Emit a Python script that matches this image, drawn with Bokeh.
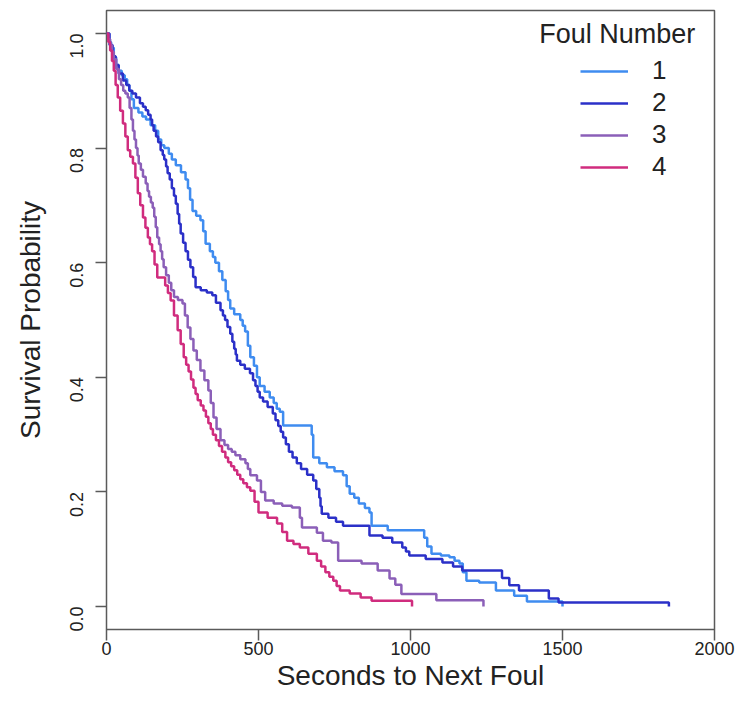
import math
from bokeh.plotting import figure
from bokeh.models import (FixedTicker, NumeralTickFormatter, Range1d, Legend, LegendItem, Label)
from bokeh.embed import file_html
from bokeh.resources import INLINE

# ---- data ----
series_names = ["1", "2", "3", "4"]
series_colors = ["#3f8cf0", "#2b30c8", "#8b5fb8", "#d02c7e"]

t1 = [0, 8, 15, 24, 32, 40, 50, 60, 68, 75, 82, 90, 105, 118, 130, 145, 160, 170, 180, 190, 205,
      215, 228, 245, 260, 268, 275, 283, 295, 309, 318, 326, 340, 350, 358, 370, 381, 392, 400, 407,
      420, 440, 448, 456, 465, 473, 485, 495, 504, 520, 537, 550, 560, 570, 581, 675, 680, 700, 725,
      750, 778, 790, 800, 815, 830, 850, 865, 872, 925, 1045, 1055, 1069, 1100, 1128, 1145, 1161,
      1172, 1184, 1226, 1281, 1341, 1383, 1500]
s1 = [1.0, 0.985, 0.975, 0.958, 0.945, 0.935, 0.927, 0.92, 0.91, 0.90, 0.885, 0.87, 0.862, 0.855,
      0.85, 0.84, 0.83, 0.815, 0.805, 0.80, 0.79, 0.78, 0.77, 0.758, 0.745, 0.73, 0.71, 0.69, 0.682,
      0.674, 0.655, 0.633, 0.62, 0.61, 0.60, 0.585, 0.57, 0.55, 0.535, 0.52, 0.51, 0.50, 0.49, 0.48,
      0.455, 0.435, 0.42, 0.40, 0.385, 0.375, 0.365, 0.355, 0.345, 0.34, 0.316, 0.30, 0.26, 0.25,
      0.243, 0.236, 0.229, 0.21, 0.197, 0.19, 0.18, 0.172, 0.164, 0.141, 0.133, 0.12, 0.105, 0.092,
      0.089, 0.086, 0.08, 0.075, 0.06, 0.045, 0.042, 0.028, 0.019, 0.009, 0.0]

t2 = [0, 10, 20, 30, 40, 54, 65, 75, 85, 97, 110, 120, 129, 137, 145, 150, 155, 163, 170, 178, 185,
      190, 196, 201, 208, 215, 222, 228, 234, 239, 244, 252, 260, 268, 276, 285, 293, 310, 330, 348,
      360, 375, 383, 390, 398, 407, 414, 420, 425, 429, 440, 455, 472, 482, 490, 497, 504, 515, 530,
      547, 556, 565, 573, 581, 590, 600, 612, 626, 640, 660, 680, 690, 700, 704, 708, 730, 755, 778,
      865, 908, 940, 973, 985, 996, 1050, 1105, 1140, 1170, 1301, 1325, 1357, 1455, 1487, 1850]
s2 = [1.0, 0.98, 0.96, 0.945, 0.93, 0.918, 0.91, 0.90, 0.895, 0.888, 0.878, 0.872, 0.866, 0.858,
      0.85, 0.84, 0.83, 0.82, 0.81, 0.796, 0.788, 0.78, 0.768, 0.756, 0.745, 0.73, 0.717, 0.703,
      0.685, 0.668, 0.651, 0.635, 0.62, 0.605, 0.592, 0.575, 0.557, 0.552, 0.548, 0.543, 0.53, 0.517,
      0.508, 0.50, 0.488, 0.476, 0.462, 0.45, 0.44, 0.429, 0.422, 0.415, 0.407, 0.395, 0.385, 0.375,
      0.365, 0.358, 0.348, 0.337, 0.325, 0.315, 0.305, 0.295, 0.283, 0.27, 0.26, 0.25, 0.24, 0.23,
      0.22, 0.205, 0.19, 0.175, 0.162, 0.155, 0.148, 0.141, 0.124, 0.120, 0.112, 0.103, 0.096, 0.089,
      0.083, 0.077, 0.07, 0.063, 0.05, 0.037, 0.028, 0.014, 0.007, 0.0]

t3 = [0, 6, 12, 18, 24, 32, 41, 48, 55, 62, 70, 76, 82, 87, 92, 97, 102, 106, 113, 120, 129, 135,
      140, 146, 152, 157, 162, 167, 173, 178, 183, 188, 196, 205, 213, 222, 235, 250, 258, 267, 276,
      286, 297, 309, 322, 335, 343, 352, 362, 375, 388, 400, 412, 424, 440, 457, 465, 473, 495, 508,
      522, 550, 578, 610, 636, 643, 692, 712, 740, 762, 839, 892, 931, 950, 970, 1085, 1240]
s3 = [1.0, 0.99, 0.98, 0.968, 0.955, 0.938, 0.92, 0.91, 0.90, 0.895, 0.888, 0.87, 0.85, 0.83,
      0.815, 0.80, 0.787, 0.773, 0.762, 0.75, 0.738, 0.725, 0.715, 0.705, 0.696, 0.68, 0.662, 0.644,
      0.632, 0.62, 0.606, 0.592, 0.578, 0.565, 0.552, 0.54, 0.535, 0.529, 0.508, 0.487, 0.467, 0.447,
      0.43, 0.412, 0.395, 0.377, 0.355, 0.33, 0.31, 0.29, 0.282, 0.275, 0.27, 0.264, 0.257, 0.25,
      0.24, 0.229, 0.22, 0.20, 0.185, 0.18, 0.176, 0.173, 0.155, 0.138, 0.129, 0.115, 0.112, 0.08,
      0.075, 0.063, 0.049, 0.038, 0.022, 0.011, 0.0]

t4 = [0, 6, 12, 18, 24, 30, 37, 45, 54, 62, 70, 78, 87, 95, 103, 111, 120, 128, 136, 143, 150, 158,
      167, 193, 202, 211, 222, 234, 244, 254, 262, 270, 278, 286, 293, 300, 310, 319, 327, 335, 343,
      350, 360, 370, 380, 391, 400, 410, 420, 430, 440, 450, 462, 473, 487, 500, 530, 561, 578, 594,
      615, 636, 664, 692, 706, 720, 733, 746, 757, 768, 800, 836, 872, 1005]
s4 = [1.0, 0.985, 0.97, 0.952, 0.935, 0.91, 0.888, 0.865, 0.843, 0.82, 0.796, 0.785, 0.773, 0.748,
      0.721, 0.70, 0.679, 0.661, 0.644, 0.632, 0.62, 0.597, 0.574, 0.56, 0.547, 0.534, 0.508, 0.482,
      0.458, 0.435, 0.422, 0.41, 0.396, 0.382, 0.371, 0.36, 0.351, 0.342, 0.331, 0.32, 0.31, 0.30,
      0.29, 0.28, 0.27, 0.26, 0.252, 0.245, 0.238, 0.23, 0.222, 0.215, 0.208, 0.202, 0.183, 0.164,
      0.155, 0.145, 0.13, 0.115, 0.109, 0.103, 0.092, 0.08, 0.07, 0.06, 0.052, 0.045, 0.036, 0.028,
      0.023, 0.016, 0.010, 0.0]

x_ticks = [0, 500, 1000, 1500, 2000]
y_ticks = [0.0, 0.2, 0.4, 0.6, 0.8, 1.0]

FONT = "Liberation Sans"
AXIS_GRAY = "#5a5a5a"
TEXT = "#222222"

p = figure(frame_width=608, frame_height=619, output_backend="svg", toolbar_location=None,
           x_range=Range1d(0, 2000), y_range=Range1d(-0.04, 1.04),
           min_border_left=106, min_border_right=23, min_border_top=10, min_border_bottom=88)

p.background_fill_color = "white"
p.border_fill_color = "white"
p.outline_line_color = AXIS_GRAY
p.outline_line_width = 1.5
p.xgrid.visible = False
p.ygrid.visible = False

# axes
p.xaxis.ticker = FixedTicker(ticks=x_ticks)
p.yaxis.ticker = FixedTicker(ticks=y_ticks)
p.yaxis.formatter = NumeralTickFormatter(format="0.0")
for ax in (p.xaxis[0], p.yaxis[0]):
    ax.axis_line_color = None
    ax.major_tick_line_color = AXIS_GRAY
    ax.major_tick_line_width = 1.5
    ax.major_tick_out = 11
    ax.major_tick_in = 0
    ax.minor_tick_line_color = None
    ax.major_label_text_font = FONT
    ax.major_label_text_font_size = "18px"
    ax.major_label_text_color = TEXT
    ax.axis_label_text_font = FONT
    ax.axis_label_text_font_size = "28px"
    ax.axis_label_text_font_style = "normal"
    ax.axis_label_text_color = TEXT

p.xaxis.axis_label = "Seconds to Next Foul"
p.yaxis.axis_label = "Survival Probability"
p.xaxis.major_label_standoff = 1
p.xaxis.axis_label_standoff = 2
p.yaxis.major_label_orientation = math.pi / 2
p.yaxis.major_label_standoff = 19
p.yaxis.axis_label_standoff = 15

renderers = []
for t, s, c in zip([t1, t2, t3, t4], [s1, s2, s3, s4], series_colors):
    r = p.step(x=t, y=s, mode="after", line_color=c, line_width=2.5)
    renderers.append(r)

legend = Legend(items=[LegendItem(label=n, renderers=[r]) for n, r in zip(series_names, renderers)],
                location=(474, 447), orientation="vertical",
                glyph_width=48, glyph_height=20, label_height=20, label_standoff=24, spacing=1,
                padding=0, margin=0, border_line_color=None, background_fill_alpha=0,
                label_text_font=FONT, label_text_font_size="26px", label_text_color=TEXT)
p.add_layout(legend, "center")

p.add_layout(Label(x=1937, y=0.999, text="Foul Number", text_align="right", text_baseline="middle",
                   text_font=FONT, text_font_size="27px", text_color=TEXT))

open("out.html", "w").write(file_html(p, INLINE))
